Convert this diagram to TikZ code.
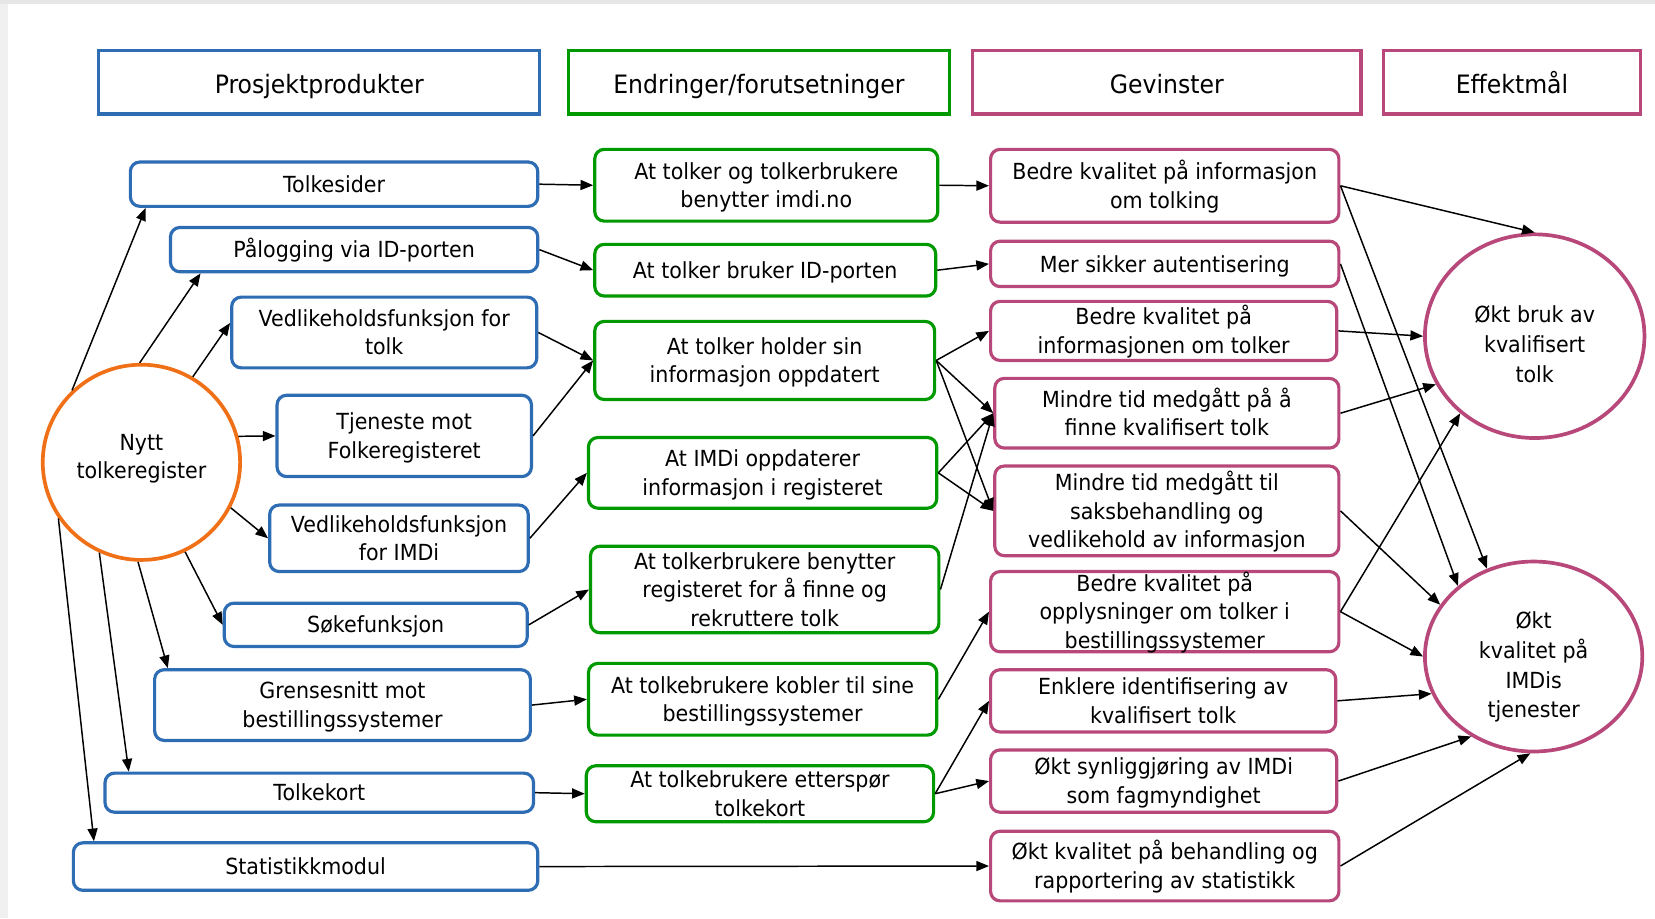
\documentclass[tikz,border=0pt]{standalone}
\usepackage{fontspec}
\setmainfont{DejaVu Sans}[FakeStretch=0.93]
\usetikzlibrary{arrows.meta,shapes.geometric,calc}
\definecolor{cblue}{RGB}{46,109,180}
\definecolor{cgreen}{RGB}{0,153,0}
\definecolor{cmag}{RGB}{184,72,122}
\definecolor{corange}{RGB}{240,112,24}
\definecolor{edgegray}{RGB}{230,230,230}
\newcommand\myBody{\fontsize{21}{27}\selectfont}
\newcommand\myGoal{\fontsize{21}{28}\selectfont}
\newcommand\myHdr{\fontsize{24}{29}\selectfont}
\newcommand\tx[2][-7.5pt]{\raisebox{#1}[0pt][0pt]{\begin{tabular}{@{}c@{}}#2\end{tabular}}}
\tikzset{
  box/.style={draw, rounded corners=9pt, line width=3pt, inner sep=0pt, font=\myBody, fill=white},
  sz/.style 2 args={minimum width=#1pt, minimum height=#2pt},
  bbox/.style={box, draw=cblue},
  gbox/.style={box, draw=cgreen},
  mbox/.style={box, draw=cmag},
  hdr/.style={draw, line width=3pt, inner sep=0pt, font=\myHdr, minimum height=60pt, fill=white},
  goal/.style={ellipse, draw=cmag, line width=3.5pt, inner sep=0pt, font=\myGoal, fill=white},
  arr/.style={-{Triangle[length=12pt,width=9.5pt]}, line width=1.4pt, black},
}
\begin{document}
\begin{tikzpicture}[x=1pt,y=-1pt]
\useasboundingbox (0,0) rectangle (1568,870);
\fill[white] (0,0) rectangle (1568,870);
\fill[edgegray] (0,0) rectangle (1568,4);
\fill[edgegray!60] (0,4) rectangle (8,870);

% headers
\node[hdr, draw=cblue, minimum width=418pt] (h1) at (302.5,78) {\tx[-11pt]{Prosjektprodukter}};
\node[hdr, draw=cgreen, minimum width=361pt] (h2) at (719,78) {\tx[-11pt]{Endringer/forutsetninger}};
\node[hdr, draw=cmag, minimum width=368pt] (h3) at (1105.5,78) {\tx[-11pt]{Gevinster}};
\node[hdr, draw=cmag, minimum width=244pt] (h4) at (1432.5,78) {\tx[-11pt]{Effektmål}};

% central circle
\node[ellipse, draw=corange, line width=3.5pt, inner sep=0pt, font=\myBody, fill=white,
      minimum width=187pt, minimum height=185pt] (N) at (134,438)
      {\tx[-2pt]{Nytt\\tolkeregister}};

% column 1
\node[bbox, sz={386}{42}] (a1) at (316.5,174.5) {\tx{Tolkesider}};
\node[bbox, sz={348}{42}] (a2) at (335.5,236.5) {\tx{Pålogging via ID-porten}};
\node[bbox, sz={289}{67}] (a3) at (364,315) {\tx{Vedlikeholdsfunksjon for\\tolk}};
\node[bbox, sz={241}{77}] (a4) at (383,413) {\tx{Tjeneste mot\\Folkeregisteret}};
\node[bbox, sz={245}{63}] (a5) at (378,510) {\tx{Vedlikeholdsfunksjon\\for IMDi}};
\node[bbox, sz={287}{41}] (a6) at (356,592) {\tx{Søkefunksjon}};
\node[bbox, sz={356}{67}] (a7) at (324.5,668) {\tx{Grensesnitt mot\\bestillingssystemer}};
\node[bbox, sz={406}{37}] (a8) at (302.5,751) {\tx{Tolkekort}};
\node[bbox, sz={440}{45}] (a9) at (289.5,821) {\tx{Statistikkmodul}};

% column 2
\node[gbox, sz={325}{68}] (b1) at (726,175.5) {\tx{At tolker og tolkerbrukere\\benytter imdi.no}};
\node[gbox, sz={323}{49}] (b2) at (725,256) {\tx{At tolker bruker ID-porten}};
\node[gbox, sz={322}{74}] (b3) at (724.5,341.5) {\tx{At tolker holder sin\\informasjon oppdatert}};
\node[gbox, sz={330}{67}] (b4) at (722.5,448) {\tx{At IMDi oppdaterer\\informasjon i registeret}};
\node[gbox, sz={330}{82}] (b5) at (724.5,558.5) {\tx{At tolkerbrukere benytter\\registeret for å finne og\\rekruttere tolk}};
\node[gbox, sz={330}{68}] (b6) at (722.5,662.5) {\tx{At tolkebrukere kobler til sine\\bestillingssystemer}};
\node[gbox, sz={329}{53}] (b7) at (720,752) {\tx{At tolkebrukere etterspør\\tolkekort}};

% column 3
\node[mbox, sz={330}{69}] (c1) at (1103.5,176) {\tx{Bedre kvalitet på informasjon\\om tolking}};
\node[mbox, sz={330}{43}] (c2) at (1103.5,250) {\tx{Mer sikker autentisering}};
\node[mbox, sz={328}{56}] (c3) at (1102.5,313.5) {\tx{Bedre kvalitet på\\informasjonen om tolker}};
\node[mbox, sz={326}{66}] (c4) at (1105.5,391.5) {\tx{Mindre tid medgått på å\\finne kvalifisert tolk}};
\node[mbox, sz={326}{85}] (c5) at (1105.5,484) {\tx{Mindre tid medgått til\\saksbehandling og\\vedlikehold av informasjon}};
\node[mbox, sz={330}{76}] (c6) at (1103.5,579.5) {\tx{Bedre kvalitet på\\opplysninger om tolker i\\bestillingssystemer}};
\node[mbox, sz={327}{59}] (c7) at (1102,664) {\tx{Enklere identifisering av\\kvalifisert tolk}};
\node[mbox, sz={328}{59}] (c8) at (1102.5,740) {\tx{Økt synliggjøring av IMDi\\som fagmyndighet}};
\node[mbox, sz={330}{66}] (c9) at (1103.5,820.5) {\tx{Økt kvalitet på behandling og\\rapportering av statistikk}};

% column 4
\node[goal, minimum width=208pt, minimum height=193pt] (d1) at (1454,318.5)
  {\tx[-15pt]{Økt bruk av\\kvalifisert\\tolk}};
\node[goal, minimum width=206pt, minimum height=180pt] (d2) at (1453,622)
  {\tx[-15.5pt]{Økt\\kvalitet på\\IMDis\\tjenester}};

% circle -> column 1
\draw[arr] (N.134) -- ($(a1.south west)+(16,0)$);
\draw[arr] (N.91) -- ($(a2.south west)+(30,0)$);
\draw[arr] (N.59) -- ($(a3.west)+(0,-9)$);
\draw[arr] (N.15) -- (a4.west);
\draw[arr] (N.333) -- (a5.west);
\draw[arr] (N.296) -- (a6.west);
\draw[arr] (N.268) -- ($(a7.north west)+(14,0)$);
\draw[arr] (N.245) -- ($(a8.north west)+(24,0)$);
\draw[arr] (N.214) -- ($(a9.north west)+(21,0)$);

% column 1 -> column 2
\draw[arr] (a1.east) -- (b1.west);
\draw[arr] (a2.east) -- (b2.west);
\draw[arr] (a3.east) -- (b3.west);
\draw[arr] (a4.east) -- (b3.west);
\draw[arr] (a5.east) -- (b4.west);
\draw[arr] (a6.east) -- (b5.west);
\draw[arr] (a7.east) -- (b6.west);
\draw[arr] (a8.east) -- (b7.west);
\draw[arr] (a9.east) -- (c9.west);

% column 2 -> column 3
\draw[arr] (b1.east) -- (c1.west);
\draw[arr] (b2.east) -- (c2.west);
\draw[arr] (b3.east) -- (c3.west);
\draw[arr] (b3.east) -- (c4.west);
\draw[arr] (b3.east) -- (c5.west);
\draw[arr] (b4.east) -- (c4.west);
\draw[arr] (b4.east) -- (c5.west);
\draw[arr] (b5.east) -- (c4.west);
\draw[arr] (b6.east) -- (c6.west);
\draw[arr] (b7.east) -- (c7.west);
\draw[arr] (b7.east) -- (c8.west);

% column 3 -> column 4
\draw[arr] (c1.east) -- (d1.north);
\draw[arr] (c1.east) -- (d2.118);
\draw[arr] (c2.east) -- (d2.137);
\draw[arr] (c3.east) -- (d1.west);
\draw[arr] (c4.east) -- (d1.206);
\draw[arr] (c5.east) -- (d2.151);
\draw[arr] (c6.east) -- (d1.226);
\draw[arr] (c6.east) -- (d2.west);
\draw[arr] (c7.east) -- (d2.200);
\draw[arr] (c8.east) -- (d2.232);
\draw[arr] (c9.east) -- (d2.268);
\end{tikzpicture}
\end{document}
